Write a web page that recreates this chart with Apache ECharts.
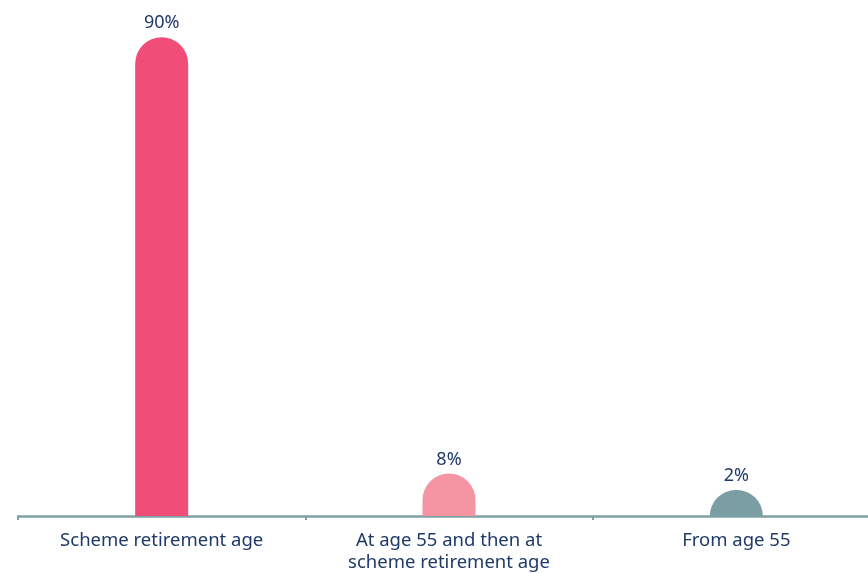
<!DOCTYPE html>
<html><head><meta charset="utf-8">
<script src="https://cdn.jsdelivr.net/npm/echarts@6/dist/echarts.min.js"></script>
<style>html,body{margin:0;padding:0;background:#fff}#c{width:868px;height:573px}</style>
</head><body><div id="c"></div>
<script>
const categories = ['Scheme retirement age', 'At age 55 and then at\nscheme retirement age', 'From age 55'];
const values = [90, 8, 2];
const barColors = ['#f04d78', '#f595a4', '#7a9ea3'];

const chart = echarts.init(document.getElementById('c'), null, {renderer: 'canvas'});
chart.setOption({
  animation: false,
  backgroundColor: '#ffffff',
  grid: {left: 18, width: 862, top: 0, height: 516, containLabel: false, outerBoundsMode: 'none'},
  xAxis: {
    type: 'category',
    data: categories,
    axisLine: {lineStyle: {color: '#7fa0a5', width: 2.5}},
    axisTick: {show: true, length: 4, lineStyle: {color: '#7fa0a5', width: 2}},
    axisLabel: {color: '#1f3a68', fontSize: 18.5, fontFamily: 'Noto Sans', margin: 14, lineHeight: 22, interval: 0}
  },
  yAxis: {type: 'value', min: 0, max: 97, show: false, splitLine: {show: false}},
  series: [{
    type: 'bar',
    barWidth: 53,
    barMinHeight: 26,
    data: values.map((v, i) => ({value: v, itemStyle: {color: barColors[i]}})),
    itemStyle: {borderRadius: [26.5, 26.5, 0, 0]},
    label: {show: true, position: 'top', distance: 5, formatter: '{c}%', color: '#1f3a68', fontSize: 18, fontFamily: 'Noto Sans'}
  }]
});
</script></body></html>
